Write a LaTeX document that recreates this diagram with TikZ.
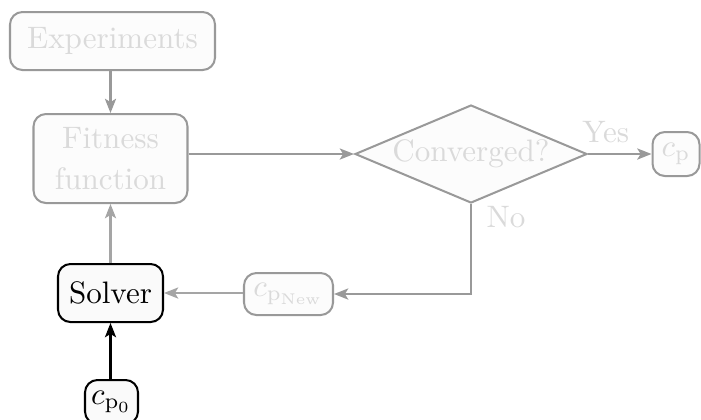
\documentclass[tikz,border=0pt]{standalone}
\usetikzlibrary{arrows.meta,shapes.geometric,calc}
\definecolor{edgegray}{RGB}{153,153,153}
\definecolor{lightedge}{RGB}{165,165,165}
\definecolor{txtgray}{RGB}{218,218,218}
\definecolor{nodefill}{RGB}{252,252,252}
\definecolor{solverfill}{RGB}{250,250,250}
\def\u{0.322pt}
\tikzset{
  every picture/.style={x=0.322pt,y=-0.322pt},
  greybox/.style={draw=edgegray,line width=0.65pt,fill=nodefill,text=txtgray,rounded corners=4pt,inner sep=0pt,align=center},
  blackbox/.style={draw=black,line width=0.65pt,fill=solverfill,text=black,rounded corners=4pt,inner sep=0pt,align=center},
  decision/.style={draw=edgegray,line width=0.65pt,fill=nodefill,text=txtgray,diamond,aspect=2.37,inner sep=0pt},
  tip/.style={-{Stealth[length=4.6pt,width=3.6pt,inset=1.1pt]}},
  flowarrow/.style={draw=edgegray,line width=0.65pt,tip},
  lightarrow/.style={draw=lightedge,line width=0.65pt,tip},
  blackarrow/.style={draw=black,line width=0.65pt,tip},
  lbl/.style={text=txtgray,inner sep=0pt}
}
\begin{document}
\begin{tikzpicture}
\useasboundingbox (0,0) rectangle (701,419);
\node[greybox,minimum width=205*\u,minimum height=58*\u] (exp) at (112.5,41) {Experiments};
\node[greybox,minimum width=154*\u,minimum height=89*\u] (fit) at (110.5,158.5) {Fitness\\[1pt]function};
\node[decision,minimum width=232*\u,minimum height=98*\u] (conv) at (471,154) {Converged?};
\node[greybox,minimum width=47*\u,minimum height=44*\u] (cp) at (676,154) {$c_{\mathrm{p}}$};
\node[greybox,minimum width=89*\u,minimum height=42*\u] (cpnew) at (288.5,294) {$c_{\mathrm{p}_{\mathrm{New}}}$};
\node[blackbox,minimum width=105*\u,minimum height=58*\u] (solver) at (110.5,293) {Solver};
\node[blackbox,minimum width=53*\u,minimum height=44*\u] (cp0) at (111.5,402) {$c_{\mathrm{p}_0}$};
\draw[flowarrow] (exp.south -| fit.north) -- (fit.north);
\draw[flowarrow] (fit.east |- conv.west) -- (conv.west);
\draw[flowarrow] (conv.east) -- node[lbl,pos=0.28,above=10*\u] {Yes} (cp.west);
\draw[flowarrow] (conv.south) -- (conv.south |- cpnew.east) -- (cpnew.east);
\node[lbl,anchor=west] (no) at ($(conv.south)+(15,13)$) {No};
\draw[lightarrow] (cpnew.west |- solver.east) -- (solver.east);
\draw[lightarrow] (solver) -- (fit);
\draw[blackarrow] (cp0.north -| solver.south) -- (solver.south);
\end{tikzpicture}
\end{document}
